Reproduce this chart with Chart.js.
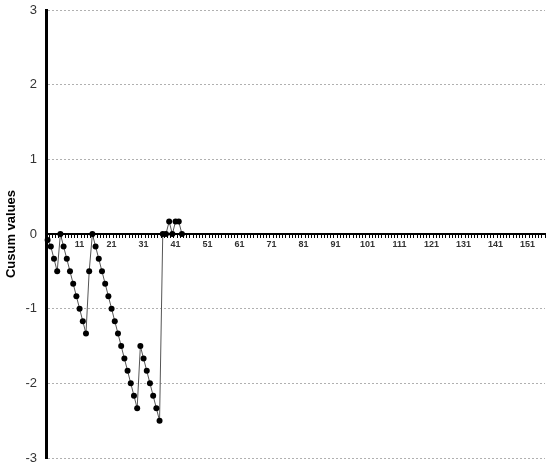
<!DOCTYPE html>
<html>
<head>
<meta charset="utf-8">
<script src="https://cdn.jsdelivr.net/npm/chart.js@4"></script>
<style>
  html, body { margin: 0; padding: 0; background: #fff; }
  #wrap { width: 550px; height: 470px; position: relative; }
</style>
</head>
<body>
<div id="wrap"><canvas id="cusumChart"></canvas></div>
<script>
// ---- data ----
const categoryCount = 156;
const categories = Array.from({ length: categoryCount }, (_, i) => String(i + 1));

const cusumValues = [
    -0.08, -0.167, -0.333, -0.5, 0,
    -0.167, -0.333, -0.5, -0.667, -0.833, -1.0, -1.167, -1.333,
    -0.5, 0,
    -0.167, -0.333, -0.5, -0.667, -0.833, -1.0, -1.167, -1.333,
    -1.5, -1.667, -1.833, -2.0, -2.167, -2.333,
    -1.5, -1.667, -1.833, -2.0, -2.167, -2.333, -2.5,
    0, 0, 0.167, 0, 0.167, 0.167, 0
];

const yTicks = [-3, -2, -1, 0, 1, 2, 3];

const FONT = "'Liberation Sans', Arial, sans-serif";

const ctx = document.getElementById('cusumChart').getContext('2d');
new Chart(ctx, {
    type: 'line',
    data: {
        labels: categories,
        datasets: [{
            label: 'Cusum',
            data: cusumValues,
            borderColor: '#555',
            borderWidth: 1,
            pointRadius: 3,
            pointBackgroundColor: '#000',
            pointBorderColor: '#000',
            pointBorderWidth: 0,
            tension: 0,
            spanGaps: false
        }]
    },
    options: {
        responsive: true,
        maintainAspectRatio: false,
        animation: false,
        layout: { padding: { top: 10, right: 5, bottom: 12, left: 0 } },
        plugins: {
            legend: { display: false },
            tooltip: { enabled: false }
        },
        scales: {
            x: {
                type: 'category',
                position: { y: 0 },
                offset: true,
                grid: {
                    drawOnChartArea: false,
                    drawTicks: true,
                    tickLength: 3,
                    color: '#000',
                    offset: true
                },
                border: { color: '#000', width: 2 },
                ticks: {
                    autoSkip: false,
                    maxRotation: 0,
                    minRotation: 0,
                    padding: 2,
                    color: '#333',
                    font: { family: FONT, size: 9, weight: 'bold' },
                    callback: (val, i) => (i > 0 && i % 10 === 0) ? categories[i] : ''
                }
            },
            y: {
                min: yTicks[0],
                max: yTicks[yTicks.length - 1],
                afterFit: (scale) => { scale.width = 46; },
                afterBuildTicks: (scale) => { scale.ticks = yTicks.map(v => ({ value: v })); },
                grid: {
                    drawTicks: true,
                    tickLength: 9,
                    tickColor: 'rgba(0,0,0,0)',
                    color: '#b0b0b0',
                    lineWidth: 1
                },
                border: { color: '#000', width: 3, dash: [2, 2] },
                ticks: {
                    padding: 0,
                    color: '#333',
                    font: { family: FONT, size: 13 }
                },
                title: {
                    display: true,
                    text: 'Cusum values',
                    color: '#000',
                    padding: { top: 4, bottom: 4 },
                    font: { family: FONT, size: 13, weight: 'bold' }
                }
            }
        }
    }
});
</script>
</body>
</html>
